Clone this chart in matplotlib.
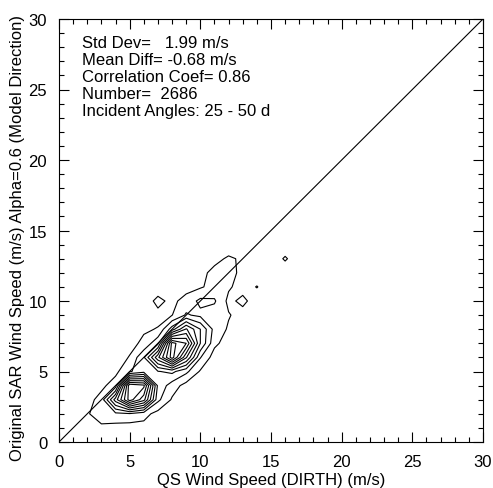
import numpy as np
import matplotlib.pyplot as plt
from matplotlib.ticker import MultipleLocator
plt.switch_backend('agg')

# bin centres of the 2-D histogram (m/s)
qs_speed = np.arange(0, 18)
sar_speed = np.arange(0, 15)

# estimated counts per bin, rows = SAR speed 0..14, cols = QS speed 0..17
counts = [
    [0, 0, 0, 0, 0, 0, 0, 0, 0, 0, 0, 0, 0, 0, 0, 0, 0, 0],
    [0, 0, 2, 2, 1, 0, 1, 0, 0, 0, 0, 0, 0, 0, 0, 0, 0, 0],
    [0, 0, 3, 9, 10, 11, 7, 1, 0, 0, 0, 0, 0, 0, 0, 0, 0, 0],
    [0, 0, 1, 7, 40, 72, 55, 14, 3, 0, 0, 0, 0, 0, 0, 0, 0, 0],
    [0, 0, 0, 2, 8, 74, 70, 18, 8, 1, 0, 0, 0, 0, 0, 0, 0, 0],
    [0, 0, 0, 0, 2, 11, 17, 19.5, 22, 14, 3, 0, 0, 0, 0, 0, 0, 0],
    [0, 0, 0, 0, 0, 4.5, 19, 50, 80, 45, 12.5, 0, 0, 0, 0, 0, 0, 0],
    [0, 0, 0, 0, 0, 1.5, 5.7, 18, 79, 68, 28, 6, 0, 0, 0, 0, 0, 0],
    [0, 0, 0, 0, 0, 0, 3, 4.4, 24, 45, 28, 9, 3, 0, 0, 0, 0, 0],
    [0, 0, 0, 0, 0, 0, 0, 2, 3.8, 13, 10, 8, 4.6, 1, 0, 0, 0, 0],
    [0, 0, 0, 0, 0, 0, 0, 6, 2, 7, 14, 13, 2, 6, 0, 0, 0, 0],
    [0, 0, 0, 0, 0, 0, 0, 0, 0, 1, 3, 7, 5, 1, 4.3, 0, 0, 0],
    [0, 0, 0, 0, 0, 0, 0, 0, 0, 0, 2, 6, 8, 1, 0, 0, 0, 0],
    [0, 0, 0, 0, 0, 0, 0, 0, 0, 0, 0, 2, 5, 3, 0, 0, 4.8, 0],
    [0, 0, 0, 0, 0, 0, 0, 0, 0, 0, 0, 0, 0, 0, 0, 0, 0, 0],
]
levels = [4, 12, 20, 28, 36, 44, 52, 60, 68, 76]

stats = [
    'Std Dev=   1.99 m/s',
    'Mean Diff= -0.68 m/s',
    'Correlation Coef= 0.86',
    'Number=  2686',
    'Incident Angles: 25 - 50 d',
]

plt.rcParams['font.family'] = ['Liberation Sans', 'DejaVu Sans']
fs = 12

fig = plt.figure(figsize=(4.93, 4.89), dpi=100)
ax = fig.add_axes([59 / 493, 46 / 489, 424 / 493, 423 / 489])

X, Y = np.meshgrid(qs_speed, sar_speed)
ax.contour(X, Y, np.array(counts), levels=levels, colors='k', linewidths=0.8)
ax.axline((0, 0), slope=1, color='k', linewidth=0.8)

ax.set_xlim(0, 30)
ax.set_ylim(0, 30)
ax.xaxis.set_major_locator(MultipleLocator(5))
ax.yaxis.set_major_locator(MultipleLocator(5))
ax.xaxis.set_minor_locator(MultipleLocator(1))
ax.yaxis.set_minor_locator(MultipleLocator(1))
ax.tick_params(which='both', direction='in', top=True, right=True,
               labelsize=fs, width=0.8)
ax.tick_params(which='major', length=7, pad=8.5)
ax.tick_params(which='minor', length=3.5)
for s in ax.spines.values():
    s.set_linewidth(0.8)

ax.set_xlabel('QS Wind Speed (DIRTH) (m/s)', fontsize=fs, labelpad=2)
ax.set_ylabel('Original SAR Wind Speed (m/s) Alpha=0.6 (Model Direction)',
              fontsize=fs)
ax.yaxis.set_label_coords(-0.080, 0.4835)

for i, line in enumerate(stats):
    ax.text(0.0535, 0.933 - i * 0.04, line, transform=ax.transAxes,
            fontsize=fs, va='baseline', ha='left')

fig.savefig('out.png', dpi=100)
plt.close('all')
